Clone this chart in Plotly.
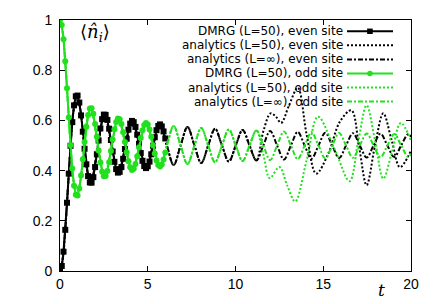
import plotly.graph_objects as go

# ---------------- data ----------------
# DMRG (L=50) time grid and densities
t_dmrg = [0.0, 0.1, 0.2, 0.3, 0.4, 0.5, 0.6, 0.7, 0.8, 0.9,
          1.0, 1.1, 1.2, 1.3, 1.4, 1.5, 1.6, 1.7, 1.8, 1.9,
          2.0, 2.1, 2.2, 2.3, 2.4, 2.5, 2.6, 2.7, 2.8, 2.9,
          3.0, 3.1, 3.2, 3.3, 3.4, 3.5, 3.6, 3.7, 3.8, 3.9,
          4.0, 4.1, 4.2, 4.3, 4.4, 4.5, 4.6, 4.7, 4.8, 4.9,
          5.0, 5.1, 5.2, 5.3, 5.4, 5.5, 5.6, 5.7, 5.8, 5.9, 6.0]
n_dmrg_even = [0.000, 0.020, 0.077, 0.164, 0.272, 0.388, 0.499, 0.593, 0.660, 0.696,
               0.699, 0.671, 0.620, 0.555, 0.487, 0.425, 0.378, 0.353, 0.352, 0.374,
               0.414, 0.465, 0.520, 0.568, 0.605, 0.623, 0.622, 0.602, 0.567, 0.522,
               0.476, 0.435, 0.406, 0.392, 0.395, 0.414, 0.447, 0.486, 0.527, 0.563,
               0.587, 0.598, 0.593, 0.574, 0.543, 0.507, 0.470, 0.439, 0.418, 0.410,
               0.417, 0.436, 0.465, 0.499, 0.533, 0.561, 0.578, 0.584, 0.576, 0.556, 0.528]
n_dmrg_odd = [1.000, 0.980, 0.923, 0.836, 0.728, 0.612, 0.501, 0.408, 0.340, 0.304,
              0.301, 0.329, 0.380, 0.445, 0.514, 0.575, 0.622, 0.647, 0.648, 0.626,
              0.586, 0.535, 0.480, 0.432, 0.395, 0.377, 0.378, 0.398, 0.433, 0.478,
              0.524, 0.565, 0.594, 0.608, 0.605, 0.586, 0.553, 0.514, 0.473, 0.437,
              0.413, 0.402, 0.407, 0.426, 0.457, 0.493, 0.530, 0.561, 0.582, 0.590,
              0.584, 0.564, 0.535, 0.501, 0.468, 0.440, 0.422, 0.416, 0.424, 0.444, 0.472]

# analytics, L = infinity (extrema and crossings)
t_inf = [0.0, 0.15, 0.3, 0.45, 0.601, 0.75, 0.958, 1.15, 1.38, 1.55,
         1.754, 2.163, 2.543, 2.948, 3.331, 3.733, 4.118, 4.518, 4.904, 5.303,
         5.69, 6.088, 6.476, 6.873, 7.262, 7.659, 8.047, 8.444, 8.833, 9.229,
         9.619, 10.015, 10.404, 10.8, 11.19, 11.585, 11.975, 12.371, 12.761, 13.156,
         13.546, 13.941, 14.332, 14.727, 15.117, 15.512, 15.903, 16.298, 16.688, 17.083,
         17.474, 17.868, 18.259, 18.654, 19.045, 19.439, 19.83, 20.0]
n_inf_even = [0.0, 0.044, 0.164, 0.330, 0.5, 0.630, 0.701, 0.648, 0.5, 0.399,
              0.350, 0.5, 0.625, 0.5, 0.391, 0.5, 0.598, 0.5, 0.410, 0.5,
              0.584, 0.5, 0.422, 0.5, 0.574, 0.5, 0.430, 0.5, 0.567, 0.5,
              0.436, 0.5, 0.562, 0.5, 0.440, 0.5, 0.558, 0.5, 0.444, 0.5,
              0.554, 0.5, 0.447, 0.5, 0.551, 0.5, 0.450, 0.5, 0.549, 0.5,
              0.452, 0.5, 0.547, 0.5, 0.454, 0.5, 0.545, 0.535]
n_inf_odd = [1.0, 0.956, 0.836, 0.670, 0.5, 0.370, 0.299, 0.352, 0.5, 0.601,
             0.650, 0.5, 0.375, 0.5, 0.609, 0.5, 0.402, 0.5, 0.590, 0.5,
             0.416, 0.5, 0.578, 0.5, 0.426, 0.5, 0.570, 0.5, 0.433, 0.5,
             0.564, 0.5, 0.438, 0.5, 0.560, 0.5, 0.442, 0.5, 0.556, 0.5,
             0.446, 0.5, 0.553, 0.5, 0.449, 0.5, 0.550, 0.5, 0.451, 0.5,
             0.548, 0.5, 0.453, 0.5, 0.546, 0.5, 0.455, 0.465]

# analytics, L = 50: identical to L=inf up to t~11.2, then finite-size deviations
n_common = 35  # number of leading points shared with L=inf
t_e50_tail = [11.6, 12.0, 12.3, 12.6, 13.05, 13.55, 14.05, 14.6, 15.3, 15.95,
              16.6, 17.05, 17.47, 17.95, 18.42, 18.9, 19.37, 20.0]
n_e50_tail = [0.56, 0.628, 0.615, 0.59, 0.66, 0.73, 0.545, 0.388, 0.47, 0.595,
              0.64, 0.49, 0.342, 0.50, 0.628, 0.52, 0.414, 0.48]
t_o50_tail = [11.6, 11.95, 12.5, 12.95, 13.4, 14.05, 14.7, 15.65, 16.5, 17.0,
              17.47, 17.95, 18.42, 18.9, 19.42, 20.0]
n_o50_tail = [0.46, 0.37, 0.414, 0.34, 0.277, 0.44, 0.615, 0.485, 0.358, 0.52,
              0.66, 0.52, 0.368, 0.47, 0.59, 0.52]

t_e50 = t_inf[:n_common] + t_e50_tail
n_e50 = n_inf_even[:n_common] + n_e50_tail
t_o50 = t_inf[:n_common] + t_o50_tail
n_o50 = n_inf_odd[:n_common] + n_o50_tail

x_ticks = [0, 5, 10, 15, 20]
y_ticks = [0, 0.2, 0.4, 0.6, 0.8, 1]
y_ticktext = ["0", "0.2", "0.4", "0.6", "0.8", "1"]

legend_labels = ["DMRG (L=50), even site", "analytics (L=50), even site",
                 "analytics (L=\u221e), even site", "DMRG (L=50), odd site",
                 "analytics (L=50), odd site", "analytics (L=\u221e), odd site"]

# ---------------- style ----------------
BLACK = "#000000"
GREEN = "#22e01e"
DOT = "2px,2px"
DASHDOT = "5px,2px,2px,2px"

fig = go.Figure()

fig.add_trace(go.Scatter(x=t_dmrg, y=n_dmrg_even, mode="lines+markers",
                         line=dict(color=BLACK, width=2),
                         marker=dict(symbol="square", size=6, color=BLACK)))
fig.add_trace(go.Scatter(x=t_e50, y=n_e50, mode="lines",
                         line=dict(color=BLACK, width=2, dash=DOT, shape="spline", smoothing=1.0)))
fig.add_trace(go.Scatter(x=t_inf, y=n_inf_even, mode="lines",
                         line=dict(color=BLACK, width=2, dash=DASHDOT, shape="spline", smoothing=1.0)))
fig.add_trace(go.Scatter(x=t_dmrg, y=n_dmrg_odd, mode="lines+markers",
                         line=dict(color=GREEN, width=2),
                         marker=dict(symbol="circle", size=6, color=GREEN)))
fig.add_trace(go.Scatter(x=t_o50, y=n_o50, mode="lines",
                         line=dict(color=GREEN, width=2, dash=DOT, shape="spline", smoothing=1.0)))
fig.add_trace(go.Scatter(x=t_inf, y=n_inf_odd, mode="lines",
                         line=dict(color=GREEN, width=2, dash=DASHDOT, shape="spline", smoothing=1.0)))

# ---------------- custom legend (text left, sample right) ----------------
row_y = [0.955, 0.899, 0.843, 0.787, 0.731, 0.675]
row_col = [BLACK, BLACK, BLACK, GREEN, GREEN, GREEN]
row_dash = ["solid", DOT, DASHDOT, "solid", DOT, DASHDOT]
sx0, sx1, sxc = 0.8177, 0.9487, 0.883
shapes = []
annotations = []
for lab, yy, col, dsh in zip(legend_labels, row_y, row_col, row_dash):
    annotations.append(dict(x=0.809, y=yy, xref="paper", yref="paper", text=lab,
                            showarrow=False, xanchor="right", yanchor="middle", borderpad=0,
                            font=dict(family="DejaVu Sans", size=12, color=BLACK)))
    shapes.append(dict(type="line", xref="paper", yref="paper", x0=sx0, x1=sx1, y0=yy, y1=yy,
                       line=dict(color=col, width=2, dash=dsh), layer="above"))
dx, dy = 2.8 / 351, 2.8 / 257
shapes.append(dict(type="rect", xref="paper", yref="paper", x0=sxc - dx, x1=sxc + dx,
                   y0=row_y[0] - dy, y1=row_y[0] + dy, fillcolor=BLACK,
                   line=dict(color=BLACK, width=0), layer="above"))
shapes.append(dict(type="circle", xref="paper", yref="paper", x0=sxc - dx, x1=sxc + dx,
                   y0=row_y[3] - dy, y1=row_y[3] + dy, fillcolor=GREEN,
                   line=dict(color=GREEN, width=0), layer="above"))

annotations.append(dict(x=0.0997, y=0.95, xref="paper", yref="paper",
                        text="\u27e8<i>n\u0302</i><sub><i>i</i></sub>\u27e9", showarrow=False,
                        xanchor="center", yanchor="middle",
                        font=dict(family="DejaVu Serif", size=18, color=BLACK)))
annotations.append(dict(x=0.917, y=-0.074, xref="paper", yref="paper", text="<i>t</i>",
                        showarrow=False, xanchor="center", yanchor="middle",
                        font=dict(family="DejaVu Serif", size=17, color=BLACK)))

axis_common = dict(showgrid=False, zeroline=False, showline=True, linecolor=BLACK, linewidth=1,
                   mirror="ticks", ticks="inside", ticklen=5, tickwidth=1, tickcolor=BLACK,
                   tickfont=dict(family="Liberation Sans, Arial", size=14, color=BLACK))

fig.update_layout(
    width=436, height=304,
    margin=dict(l=60, r=25, t=16, b=31),
    paper_bgcolor="white", plot_bgcolor="white",
    showlegend=False,
    shapes=shapes, annotations=annotations,
    xaxis=dict(range=[0, 20], tickvals=x_ticks, **axis_common),
    yaxis=dict(range=[0, 1], tickvals=y_ticks, ticktext=y_ticktext,
               ticklabelstandoff=4, **axis_common),
)

fig.write_html("out.html", config={"displayModeBar": False},
               post_script="document.body.style.margin='0';document.body.style.padding='0';")
